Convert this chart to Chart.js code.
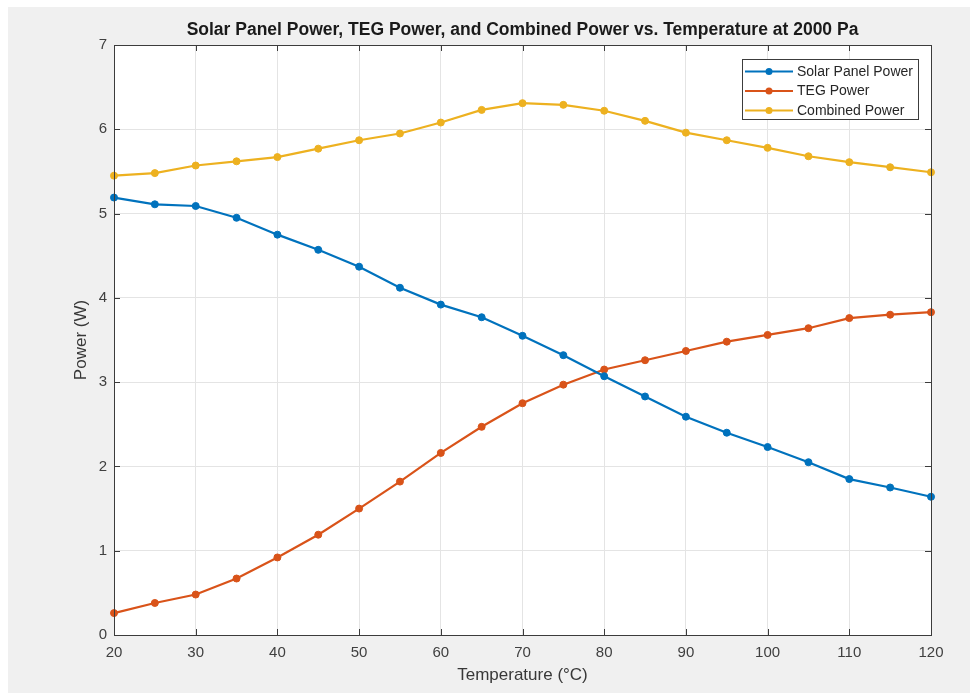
<!DOCTYPE html>
<html><head><meta charset="utf-8">
<script src="https://cdn.jsdelivr.net/npm/chart.js@4"></script>
<style>html,body{margin:0;padding:0;background:#fff;overflow:hidden}canvas{display:block}</style>
</head><body>
<canvas id="c" width="970" height="693" style="width:970px;height:693px"></canvas>
<script>
const temperatures = [20,25,30,35,40,45,50,55,60,65,70,75,80,85,90,95,100,105,110,115,120];
const solarPower = [5.19,5.11,5.09,4.95,4.75,4.57,4.37,4.12,3.92,3.77,3.55,3.32,3.07,2.83,2.59,2.40,2.23,2.05,1.85,1.75,1.64];
const tegPower = [0.26,0.38,0.48,0.67,0.92,1.19,1.50,1.82,2.16,2.47,2.75,2.97,3.15,3.26,3.37,3.48,3.56,3.64,3.76,3.80,3.83];
const combinedPower = [5.45,5.48,5.57,5.62,5.67,5.77,5.87,5.95,6.08,6.23,6.31,6.29,6.22,6.10,5.96,5.87,5.78,5.68,5.61,5.55,5.49];
const seriesNames = ['Solar Panel Power','TEG Power','Combined Power'];
const seriesColors = ['#0072BD','#D95319','#EDB120'];
const xTickValues = [20,30,40,50,60,70,80,90,100,110,120];
const yTickValues = [0,1,2,3,4,5,6,7];
const titleText = 'Solar Panel Power, TEG Power, and Combined Power vs. Temperature at 2000 Pa';
const xTitle = 'Temperature (°C)';
const yTitle = 'Power (W)';

const FONT = '"Liberation Sans", Arial, Helvetica, sans-serif';
Chart.defaults.font.family = FONT;

function toPoints(vals){ return temperatures.map((t,i)=>({x:t,y:vals[i]})); }
const allSeries = [solarPower, tegPower, combinedPower];
const datasets = allSeries.map((vals,i)=>({
  label: seriesNames[i],
  data: toPoints(vals),
  borderColor: seriesColors[i],
  backgroundColor: seriesColors[i],
  borderWidth: 2.2,
  pointRadius: 3.5,
  pointHoverRadius: 3.5,
  pointBorderWidth: 1,
  pointBackgroundColor: seriesColors[i],
  pointBorderColor: seriesColors[i],
  tension: 0,
  clip: false
}));

const matlabPlugin = {
  id: 'matlabLook',
  beforeDraw(chart){
    const ctx = chart.ctx, a = chart.chartArea;
    ctx.save();
    ctx.fillStyle = '#ffffff';
    ctx.fillRect(0,0,chart.width,chart.height);
    ctx.fillStyle = '#f0f0f0';
    ctx.fillRect(8,7,chart.width-8,chart.height-7);
    ctx.fillStyle = '#ffffff';
    ctx.fillRect(a.left,a.top,a.right-a.left,a.bottom-a.top);
    ctx.restore();
  },
  afterDatasetsDraw(chart){
    const ctx = chart.ctx, a = chart.chartArea;
    const xs = chart.scales.x, ys = chart.scales.y;
    ctx.save();
    ctx.strokeStyle = '#3c3c3c';
    ctx.lineWidth = 1;
    ctx.strokeRect(Math.round(a.left)+0.5, Math.round(a.top)+0.5, Math.round(a.right-a.left), Math.round(a.bottom-a.top));
    const tl = 6;
    ctx.beginPath();
    xTickValues.forEach(v=>{
      const px = Math.round(xs.getPixelForValue(v))+0.5;
      ctx.moveTo(px,a.bottom); ctx.lineTo(px,a.bottom-tl);
      ctx.moveTo(px,a.top); ctx.lineTo(px,a.top+tl);
    });
    yTickValues.forEach(v=>{
      const py = Math.round(ys.getPixelForValue(v))+0.5;
      ctx.moveTo(a.left,py); ctx.lineTo(a.left+tl,py);
      ctx.moveTo(a.right,py); ctx.lineTo(a.right-tl,py);
    });
    ctx.stroke();
    ctx.restore();
  },
  afterDraw(chart){
    const ctx = chart.ctx, a = chart.chartArea;
    const w = 176, h = 60;
    const lx = Math.round(a.right - 13 - w), ly = Math.round(a.top + 14);
    ctx.save();
    ctx.fillStyle = '#ffffff';
    ctx.fillRect(lx,ly,w,h);
    ctx.strokeStyle = '#3c3c3c';
    ctx.lineWidth = 1;
    ctx.strokeRect(lx+0.5,ly+0.5,w,h);
    ctx.font = '14px ' + FONT;
    ctx.textBaseline = 'middle';
    ctx.textAlign = 'left';
    seriesNames.forEach((name,i)=>{
      const y = ly + 12.5 + i*19.5;
      ctx.strokeStyle = seriesColors[i];
      ctx.lineWidth = 2.2;
      ctx.beginPath(); ctx.moveTo(lx+3,y); ctx.lineTo(lx+51,y); ctx.stroke();
      ctx.fillStyle = seriesColors[i];
      ctx.beginPath(); ctx.arc(lx+27,y,3.5,0,Math.PI*2); ctx.fill();
      ctx.fillStyle = '#262626';
      ctx.fillText(name, lx+55, y+0.5);
    });
    ctx.restore();
  }
};

new Chart(document.getElementById('c'), {
  type: 'line',
  data: { datasets },
  plugins: [matlabPlugin],
  options: {
    responsive: false,
    animation: false,
    events: [],
    layout: { padding: { left: 0, right: 39, top: 0, bottom: 0 } },
    plugins: {
      legend: { display: false },
      tooltip: { enabled: false },
      title: {
        display: true,
        text: titleText,
        fullSize: false,
        color: '#1a1a1a',
        font: { size: 17.5, weight: 'bold', family: FONT, lineHeight: 1.2 },
        padding: { top: 19.5, bottom: 4.5 }
      }
    },
    scales: {
      x: {
        type: 'linear',
        min: 20, max: 120,
        afterBuildTicks(s){ s.ticks = xTickValues.map(v=>({value:v})); },
        afterFit(s){ s.height = 58; },
        grid: { color: '#e4e4e4', drawTicks: false, lineWidth: 1 },
        border: { display: false },
        ticks: { color: '#404040', font: { size: 15 }, padding: 9, maxRotation: 0, autoSkip: false },
        title: { display: true, text: xTitle, color: '#383838', font: { size: 17, lineHeight: 1.2 }, padding: { top: 0, bottom: 7.8 } }
      },
      y: {
        type: 'linear',
        min: 0, max: 7,
        afterBuildTicks(s){ s.ticks = yTickValues.map(v=>({value:v})); },
        afterFit(s){ s.width = 114; },
        grid: { color: '#e4e4e4', drawTicks: false, lineWidth: 1 },
        border: { display: false },
        ticks: { color: '#404040', font: { size: 15 }, padding: 7 },
        title: { display: true, text: yTitle, color: '#383838', font: { size: 17, lineHeight: 1.2 }, padding: { top: 71.5, bottom: 0 } }
      }
    }
  }
});
</script>
</body></html>
